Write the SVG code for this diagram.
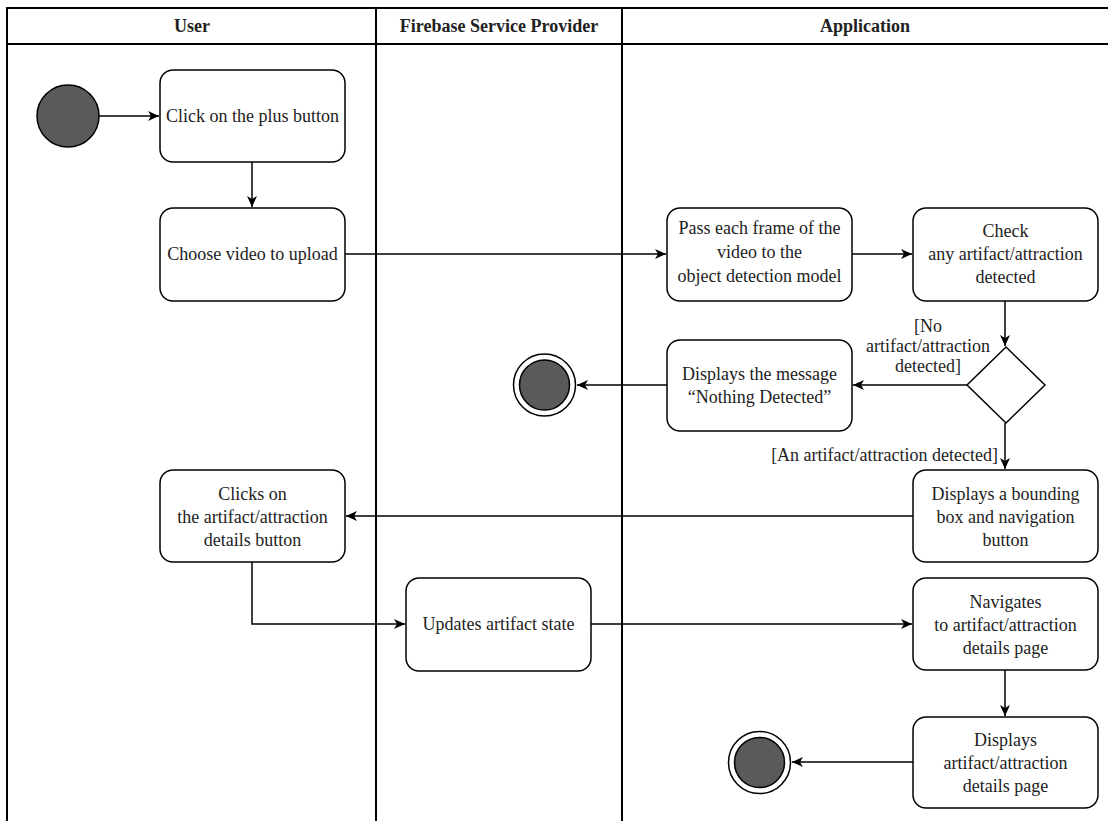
<svg xmlns="http://www.w3.org/2000/svg" width="1108" height="821" viewBox="0 0 1108 821">
<style>
.lane{fill:none;stroke:#000;stroke-width:2}
.box{fill:#fff;stroke:#000;stroke-width:1.5}
text{font-family:'Liberation Serif','Tinos','DejaVu Serif',serif;font-size:18px;fill:#222}
.t{text-anchor:middle}
.h{font-weight:bold;text-anchor:middle}
.c{fill:none;stroke:#000;stroke-width:1.5}
.dot{fill:#5a5a5a;stroke:#000;stroke-width:1.5}
</style>
<defs>
<marker id="arr" markerUnits="userSpaceOnUse" markerWidth="12" markerHeight="10" refX="11" refY="5" orient="auto">
<path d="M0,0 L11,5 L0,10 L3,5 Z" fill="#000"/>
</marker>
</defs>
<rect width="1108" height="821" fill="#fff"/>
<g id="lanes">
<path class="lane" d="M7,821 V8 H1110 M7,44 H1110 M376,8 V821 M622,8 V821"/>
<text class="h" x="192" y="32">User</text>
<text class="h" x="499" y="32">Firebase Service Provider</text>
<text class="h" x="865" y="32">Application</text>
</g>
<g id="connectors">
<path class="c" d="M99,116 H159" marker-end="url(#arr)"/>
<path class="c" d="M252,162 V207" marker-end="url(#arr)"/>
<path class="c" d="M345,254 H666" marker-end="url(#arr)"/>
<path class="c" d="M852,254 H912" marker-end="url(#arr)"/>
<path class="c" d="M1005,301 V346" marker-end="url(#arr)"/>
<path class="c" d="M967,385 H853" marker-end="url(#arr)"/>
<path class="c" d="M667,385 H577" marker-end="url(#arr)"/>
<path class="c" d="M1005,423 V469" marker-end="url(#arr)"/>
<path class="c" d="M913,516 H346" marker-end="url(#arr)"/>
<path class="c" d="M252,562 V624 H405" marker-end="url(#arr)"/>
<path class="c" d="M591,624 H912" marker-end="url(#arr)"/>
<path class="c" d="M1005,670 V716" marker-end="url(#arr)"/>
<path class="c" d="M913,762 H792" marker-end="url(#arr)"/>
<text class="t" x="928" y="332">[No</text>
<text class="t" x="928" y="352">artifact/attraction</text>
<text class="t" x="928" y="372">detected]</text>
<text x="998" y="461" text-anchor="end">[An artifact/attraction detected]</text>
</g>
<g id="start">
<circle class="dot" cx="68" cy="116" r="31"/>
</g>
<g id="click-plus">
<rect class="box" x="160" y="70" width="185" height="92" rx="13"/>
<text class="t" x="252.5" y="122">Click on the plus button</text>
</g>
<g id="choose-video">
<rect class="box" x="160" y="208" width="185" height="93" rx="13"/>
<text class="t" x="252.5" y="260">Choose video to upload</text>
</g>
<g id="pass-frames">
<rect class="box" x="667" y="208" width="185" height="93" rx="13"/>
<text class="t" x="759.5" y="234">Pass each frame of the</text>
<text class="t" x="759.5" y="258">video to the</text>
<text class="t" x="759.5" y="282">object detection model</text>
</g>
<g id="check">
<rect class="box" x="913" y="208" width="185" height="93" rx="13"/>
<text class="t" x="1005.5" y="237">Check</text>
<text class="t" x="1005.5" y="260">any artifact/attraction</text>
<text class="t" x="1005.5" y="283">detected</text>
</g>
<g id="decision">
<path class="box" d="M1006,347 L1045,385 L1006,423 L967,385 Z"/>
</g>
<g id="nothing-detected">
<rect class="box" x="667" y="340" width="185" height="91" rx="13"/>
<text class="t" x="759.5" y="380">Displays the message</text>
<text class="t" x="759.5" y="403">“Nothing Detected”</text>
</g>
<g id="end1">
<circle cx="544.5" cy="385" r="31" fill="#fff" stroke="#000" stroke-width="1.5"/>
<circle class="dot" cx="544.5" cy="385" r="25"/>
</g>
<g id="bounding-box">
<rect class="box" x="913" y="470" width="185" height="92" rx="13"/>
<text class="t" x="1005.5" y="500">Displays a bounding</text>
<text class="t" x="1005.5" y="523">box and navigation</text>
<text class="t" x="1005.5" y="546">button</text>
</g>
<g id="clicks-details">
<rect class="box" x="160" y="470" width="185" height="92" rx="13"/>
<text class="t" x="252.5" y="500">Clicks on</text>
<text class="t" x="252.5" y="523">the artifact/attraction</text>
<text class="t" x="252.5" y="546">details button</text>
</g>
<g id="updates-state">
<rect class="box" x="406" y="578" width="185" height="93" rx="13"/>
<text class="t" x="498.5" y="630">Updates artifact state</text>
</g>
<g id="navigates">
<rect class="box" x="913" y="578" width="185" height="92" rx="13"/>
<text class="t" x="1005.5" y="608">Navigates</text>
<text class="t" x="1005.5" y="631">to artifact/attraction</text>
<text class="t" x="1005.5" y="654">details page</text>
</g>
<g id="displays-details">
<rect class="box" x="913" y="717" width="185" height="91" rx="13"/>
<text class="t" x="1005.5" y="746">Displays</text>
<text class="t" x="1005.5" y="769">artifact/attraction</text>
<text class="t" x="1005.5" y="792">details page</text>
</g>
<g id="end2">
<circle cx="759.5" cy="762.5" r="31" fill="#fff" stroke="#000" stroke-width="1.5"/>
<circle class="dot" cx="759.5" cy="762.5" r="25"/>
</g>
</svg>
